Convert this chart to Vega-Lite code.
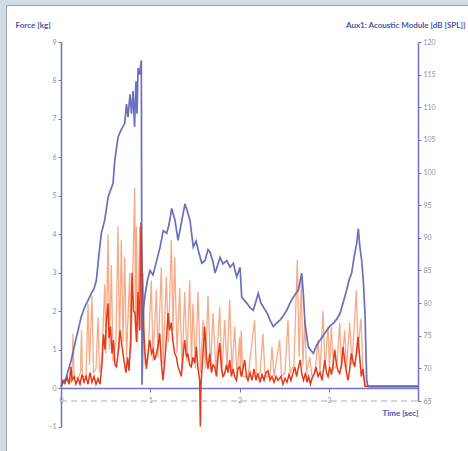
{
  "$schema": "https://vega.github.io/schema/vega-lite/v6.json",
  "autosize": "none",
  "width": 462,
  "height": 446,
  "padding": {"left": 6, "top": 5, "right": 0, "bottom": 0},
  "background": "#d3dce5",
  "view": {"fill": "white", "stroke": "#9aa3ad", "strokeWidth": 1},
  "config": {
    "font": "Lato",
    "axis": {"grid": false, "labelColor": "#8f8f8f", "labelFontSize": 7, "domainColor": "#6e73c4", "domainWidth": 1.5, "tickColor": "#6e73c4", "titleColor": "#4a53a8", "titleFontSize": 8, "titleFontWeight": "bold", "labelOverlap": false, "labelFlush": false, "labelBound": false}
  },
  "datasets": {
    "orange": [
      {"t":0,"f":0.1},{"t":0.045,"f":0.2},{"t":0.101,"f":0.15},{"t":0.123,"f":0.3},{"t":0.134,"f":1.42},{"t":0.146,"f":0.3},{"t":0.19,"f":0.25},{"t":0.218,"f":0.4},{"t":0.23,"f":1.5},{"t":0.241,"f":0.3},{"t":0.28,"f":0.3},{"t":0.303,"f":2.2},{"t":0.319,"f":0.6},{"t":0.347,"f":2.4},{"t":0.364,"f":0.4},{"t":0.392,"f":0.5},{"t":0.415,"f":1.85},{"t":0.431,"f":0.4},{"t":0.459,"f":0.8},{"t":0.49,"f":2.7},{"t":0.504,"f":0.9},{"t":0.527,"f":4.0},{"t":0.543,"f":1.0},{"t":0.564,"f":3.2},{"t":0.583,"f":0.7},{"t":0.616,"f":1.2},{"t":0.639,"f":4.2},{"t":0.655,"f":1.0},{"t":0.676,"f":3.85},{"t":0.695,"f":1.2},{"t":0.714,"f":3.4},{"t":0.734,"f":0.8},{"t":0.77,"f":3.0},{"t":0.784,"f":0.9},{"t":0.826,"f":5.2},{"t":0.835,"f":1.5},{"t":0.844,"f":4.2},{"t":0.857,"f":1.2},{"t":0.882,"f":4.2},{"t":0.896,"f":1.5},{"t":0.919,"f":3.0},{"t":0.941,"f":0.6},{"t":0.975,"f":0.8},{"t":1.012,"f":2.8},{"t":1.031,"f":0.7},{"t":1.068,"f":2.55},{"t":1.087,"f":0.8},{"t":1.124,"f":3.15},{"t":1.143,"f":0.6},{"t":1.18,"f":2.9},{"t":1.204,"f":1.2},{"t":1.236,"f":3.85},{"t":1.255,"f":1.5},{"t":1.274,"f":3.4},{"t":1.3,"f":0.9},{"t":1.33,"f":2.6},{"t":1.356,"f":0.5},{"t":1.386,"f":2.5},{"t":1.412,"f":0.7},{"t":1.442,"f":2.8},{"t":1.462,"f":0.6},{"t":1.479,"f":2.2},{"t":1.507,"f":0.5},{"t":1.535,"f":2.5},{"t":1.563,"f":0.4},{"t":1.591,"f":1.77},{"t":1.619,"f":0.5},{"t":1.647,"f":2.4},{"t":1.675,"f":0.5},{"t":1.703,"f":1.95},{"t":1.737,"f":0.4},{"t":1.778,"f":2.1},{"t":1.804,"f":0.4},{"t":1.834,"f":1.77},{"t":1.86,"f":0.5},{"t":1.89,"f":2.3},{"t":1.916,"f":0.4},{"t":1.946,"f":1.6},{"t":1.972,"f":0.3},{"t":2.002,"f":1.33},{"t":2.011,"f":0.3},{"t":2.02,"f":1.5},{"t":2.039,"f":0.3},{"t":2.095,"f":0.3},{"t":2.17,"f":1.77},{"t":2.19,"f":0.3},{"t":2.23,"f":0.4},{"t":2.263,"f":1.42},{"t":2.286,"f":0.3},{"t":2.342,"f":0.3},{"t":2.364,"f":1.07},{"t":2.387,"f":0.3},{"t":2.45,"f":1.25},{"t":2.471,"f":0.3},{"t":2.51,"f":0.4},{"t":2.543,"f":1.77},{"t":2.566,"f":0.4},{"t":2.61,"f":0.6},{"t":2.648,"f":3.33},{"t":2.667,"f":0.8},{"t":2.692,"f":2.8},{"t":2.711,"f":0.6},{"t":2.731,"f":1.77},{"t":2.751,"f":0.4},{"t":2.787,"f":0.8},{"t":2.812,"f":0.3},{"t":2.846,"f":0.4},{"t":2.88,"f":1.25},{"t":2.902,"f":0.4},{"t":2.936,"f":2.0},{"t":2.958,"f":0.5},{"t":2.992,"f":1.6},{"t":3.008,"f":0.5},{"t":3.029,"f":1.6},{"t":3.053,"f":0.5},{"t":3.092,"f":0.6},{"t":3.123,"f":1.7},{"t":3.143,"f":0.5},{"t":3.179,"f":1.5},{"t":3.199,"f":0.5},{"t":3.235,"f":1.7},{"t":3.261,"f":0.6},{"t":3.309,"f":2.55},{"t":3.328,"f":0.9},{"t":3.347,"f":1.5},{"t":3.361,"f":1.8},{"t":3.384,"f":0.4},{"t":3.406,"f":0.05},{"t":4.0,"f":0.05}
    ],
    "red": [
      {"t":0,"f":0.05},{"t":0.022,"f":0.2},{"t":0.045,"f":0.12},{"t":0.067,"f":0.3},{"t":0.09,"f":0.1},{"t":0.112,"f":0.55},{"t":0.123,"f":0.2},{"t":0.146,"f":0.3},{"t":0.168,"f":0.1},{"t":0.19,"f":0.25},{"t":0.213,"f":0.1},{"t":0.235,"f":0.35},{"t":0.258,"f":0.15},{"t":0.28,"f":0.3},{"t":0.303,"f":0.1},{"t":0.325,"f":0.4},{"t":0.347,"f":0.15},{"t":0.37,"f":0.3},{"t":0.392,"f":0.1},{"t":0.415,"f":0.25},{"t":0.437,"f":0.1},{"t":0.459,"f":0.6},{"t":0.476,"f":1.4},{"t":0.493,"f":1.0},{"t":0.51,"f":1.8},{"t":0.527,"f":2.2},{"t":0.538,"f":1.3},{"t":0.555,"f":1.6},{"t":0.571,"f":0.9},{"t":0.588,"f":1.25},{"t":0.605,"f":0.6},{"t":0.622,"f":0.55},{"t":0.639,"f":0.9},{"t":0.661,"f":1.5},{"t":0.683,"f":1.1},{"t":0.706,"f":0.7},{"t":0.728,"f":0.4},{"t":0.745,"f":0.8},{"t":0.762,"f":0.45},{"t":0.779,"f":1.2},{"t":0.796,"f":3.0},{"t":0.813,"f":2.0},{"t":0.829,"f":1.95},{"t":0.846,"f":1.2},{"t":0.863,"f":2.5},{"t":0.88,"f":1.5},{"t":0.896,"f":4.3},{"t":0.908,"f":3.2},{"t":0.924,"f":1.6},{"t":0.941,"f":0.9},{"t":0.958,"f":0.5},{"t":0.975,"f":0.9},{"t":0.994,"f":1.25},{"t":1.014,"f":0.9},{"t":1.031,"f":1.0},{"t":1.05,"f":0.73},{"t":1.07,"f":0.9},{"t":1.087,"f":1.1},{"t":1.106,"f":1.42},{"t":1.126,"f":0.6},{"t":1.143,"f":0.2},{"t":1.166,"f":0.8},{"t":1.182,"f":1.3},{"t":1.199,"f":1.95},{"t":1.216,"f":1.5},{"t":1.236,"f":1.7},{"t":1.255,"f":1.2},{"t":1.274,"f":0.9},{"t":1.294,"f":0.8},{"t":1.311,"f":0.55},{"t":1.328,"f":0.45},{"t":1.348,"f":0.3},{"t":1.367,"f":0.8},{"t":1.386,"f":1.25},{"t":1.406,"f":0.8},{"t":1.42,"f":0.9},{"t":1.442,"f":0.6},{"t":1.459,"f":0.55},{"t":1.479,"f":0.8},{"t":1.499,"f":0.65},{"t":1.516,"f":1.07},{"t":1.535,"f":0.5},{"t":1.554,"f":0.2},{"t":1.561,"f":-1.0},{"t":1.569,"f":0.1},{"t":1.585,"f":0.7},{"t":1.61,"f":1.6},{"t":1.63,"f":0.8},{"t":1.647,"f":0.5},{"t":1.666,"f":0.9},{"t":1.686,"f":0.4},{"t":1.703,"f":0.6},{"t":1.722,"f":0.55},{"t":1.742,"f":0.3},{"t":1.759,"f":0.8},{"t":1.778,"f":1.17},{"t":1.798,"f":0.5},{"t":1.815,"f":0.3},{"t":1.834,"f":0.38},{"t":1.854,"f":0.6},{"t":1.871,"f":0.4},{"t":1.89,"f":0.73},{"t":1.91,"f":0.3},{"t":1.927,"f":0.5},{"t":1.946,"f":0.3},{"t":1.966,"f":0.2},{"t":1.983,"f":0.5},{"t":2.002,"f":0.55},{"t":2.022,"f":0.3},{"t":2.039,"f":0.5},{"t":2.058,"f":0.73},{"t":2.078,"f":0.3},{"t":2.095,"f":0.2},{"t":2.118,"f":0.4},{"t":2.14,"f":0.2},{"t":2.162,"f":0.5},{"t":2.185,"f":0.2},{"t":2.207,"f":0.38},{"t":2.23,"f":0.15},{"t":2.252,"f":0.35},{"t":2.275,"f":0.2},{"t":2.297,"f":0.4},{"t":2.319,"f":0.45},{"t":2.342,"f":0.2},{"t":2.364,"f":0.3},{"t":2.387,"f":0.15},{"t":2.409,"f":0.3},{"t":2.431,"f":0.2},{"t":2.465,"f":0.3},{"t":2.487,"f":0.1},{"t":2.51,"f":0.25},{"t":2.532,"f":0.15},{"t":2.555,"f":0.35},{"t":2.577,"f":0.2},{"t":2.6,"f":0.4},{"t":2.619,"f":0.55},{"t":2.64,"f":0.3},{"t":2.656,"f":0.5},{"t":2.68,"f":0.73},{"t":2.7,"f":0.35},{"t":2.717,"f":0.2},{"t":2.74,"f":0.4},{"t":2.756,"f":0.15},{"t":2.773,"f":0.3},{"t":2.795,"f":0.1},{"t":2.812,"f":0.25},{"t":2.835,"f":0.35},{"t":2.857,"f":0.55},{"t":2.88,"f":0.3},{"t":2.902,"f":0.4},{"t":2.925,"f":0.2},{"t":2.955,"f":0.73},{"t":2.975,"f":0.4},{"t":2.992,"f":0.3},{"t":3.011,"f":0.55},{"t":3.03,"f":0.35},{"t":3.048,"f":0.6},{"t":3.067,"f":1.0},{"t":3.087,"f":0.6},{"t":3.104,"f":0.45},{"t":3.123,"f":0.38},{"t":3.143,"f":0.6},{"t":3.16,"f":1.07},{"t":3.179,"f":0.7},{"t":3.199,"f":0.4},{"t":3.216,"f":0.2},{"t":3.235,"f":0.5},{"t":3.253,"f":0.9},{"t":3.272,"f":0.7},{"t":3.291,"f":0.55},{"t":3.309,"f":0.9},{"t":3.328,"f":1.33},{"t":3.347,"f":0.8},{"t":3.365,"f":0.3},{"t":3.384,"f":0.5},{"t":3.406,"f":0.05},{"t":4.0,"f":0.05}
    ],
    "blue": [
      {"t":0,"db":67.2},{"t":0.056,"db":68.5},{"t":0.115,"db":71.3},{"t":0.168,"db":74.5},{"t":0.227,"db":77.9},{"t":0.269,"db":79.5},{"t":0.303,"db":80.4},{"t":0.34,"db":81.5},{"t":0.37,"db":82.2},{"t":0.396,"db":83.5},{"t":0.426,"db":87.5},{"t":0.452,"db":90.7},{"t":0.49,"db":92.7},{"t":0.527,"db":96.2},{"t":0.56,"db":97.5},{"t":0.583,"db":98.3},{"t":0.602,"db":101.8},{"t":0.639,"db":105.4},{"t":0.672,"db":106.5},{"t":0.714,"db":107.5},{"t":0.734,"db":110.5},{"t":0.751,"db":108.5},{"t":0.773,"db":112},{"t":0.79,"db":109},{"t":0.807,"db":112.5},{"t":0.824,"db":107},{"t":0.84,"db":114},{"t":0.852,"db":109},{"t":0.863,"db":116},{"t":0.88,"db":115},{"t":0.9,"db":117.2},{"t":0.908,"db":67.5},{"t":0.924,"db":79},{"t":0.941,"db":81.2},{"t":0.969,"db":83.5},{"t":0.997,"db":85},{"t":1.031,"db":84.3},{"t":1.072,"db":86.5},{"t":1.109,"db":88.5},{"t":1.146,"db":91.1},{"t":1.184,"db":90.7},{"t":1.21,"db":92},{"t":1.24,"db":94.5},{"t":1.277,"db":92.7},{"t":1.311,"db":89.6},{"t":1.345,"db":92},{"t":1.389,"db":95.2},{"t":1.417,"db":94},{"t":1.445,"db":92.7},{"t":1.482,"db":88.6},{"t":1.513,"db":89.5},{"t":1.538,"db":88.1},{"t":1.577,"db":86.1},{"t":1.613,"db":86.5},{"t":1.647,"db":88.2},{"t":1.67,"db":87.8},{"t":1.703,"db":86.3},{"t":1.726,"db":84.6},{"t":1.759,"db":86},{"t":1.782,"db":87},{"t":1.815,"db":86},{"t":1.857,"db":86.5},{"t":1.894,"db":85.5},{"t":1.931,"db":86.1},{"t":1.969,"db":84},{"t":2.006,"db":85.5},{"t":2.025,"db":80.9},{"t":2.05,"db":80.5},{"t":2.081,"db":80},{"t":2.118,"db":79.3},{"t":2.155,"db":78.9},{"t":2.21,"db":81.5},{"t":2.241,"db":80},{"t":2.267,"db":79.4},{"t":2.308,"db":78.5},{"t":2.342,"db":77.4},{"t":2.379,"db":76.4},{"t":2.42,"db":77},{"t":2.454,"db":77.4},{"t":2.487,"db":78},{"t":2.529,"db":78.9},{"t":2.566,"db":80},{"t":2.603,"db":80.9},{"t":2.633,"db":81.5},{"t":2.659,"db":82},{"t":2.697,"db":84.6},{"t":2.715,"db":81.5},{"t":2.734,"db":76.9},{"t":2.771,"db":73.3},{"t":2.796,"db":72.8},{"t":2.827,"db":72.3},{"t":2.863,"db":73.5},{"t":2.902,"db":74.3},{"t":2.936,"db":75},{"t":2.977,"db":75.8},{"t":3.014,"db":76.5},{"t":3.051,"db":76.9},{"t":3.087,"db":77.5},{"t":3.126,"db":78.4},{"t":3.16,"db":80},{"t":3.201,"db":82},{"t":3.227,"db":83.5},{"t":3.257,"db":84.6},{"t":3.283,"db":87},{"t":3.313,"db":89.1},{"t":3.331,"db":91.4},{"t":3.35,"db":88.5},{"t":3.369,"db":86.5},{"t":3.387,"db":83.5},{"t":3.406,"db":78.4},{"t":3.425,"db":68.2},{"t":3.44,"db":67.2},{"t":4.0,"db":67.2}
    ]
  },
  "layer": [
    {
      "layer": [
        {
          "data": {"name": "orange"},
          "mark": {"type": "line", "color": "#f4a27c", "strokeWidth": 1.3, "opacity": 0.9},
          "encoding": {
            "x": {"field": "t", "type": "quantitative", "scale": {"domain": [0, 4], "range": [55, 412], "nice": false, "zero": false},
              "axis": {"orient": "bottom", "offset": -63, "values": [0, 1, 2, 3], "format": "d", "tickSize": 4, "labelPadding": 4, "title": "Time [sec]", "titleAnchor": "end", "titleAlign": "right", "titleX": 412, "titleY": 25, "titleBaseline": "middle"}},
            "y": {"field": "f", "type": "quantitative", "scale": {"domain": [-1, 9], "range": [421.5, 37], "nice": false, "zero": false},
              "axis": {"orient": "left", "offset": -55, "values": [-1, 0, 1, 2, 3, 4, 5, 6, 7, 8, 9], "tickSize": 3, "labelPadding": 2, "title": "Force [kg]", "titleAngle": 0, "titleAlign": "left", "titleBaseline": "middle", "titleX": -46, "titleY": 20}}
          }
        },
        {
          "data": {"name": "red"},
          "mark": {"type": "line", "color": "#e43a1a", "strokeWidth": 1.5},
          "encoding": {
            "x": {"field": "t", "type": "quantitative"},
            "y": {"field": "f", "type": "quantitative"}
          }
        }
      ]
    },
    {
      "layer": [
        {
          "data": {"values": [{}]},
          "mark": {"type": "rule", "color": "#c9c9c9", "strokeWidth": 1.5, "strokeDash": [6, 4]},
          "encoding": {
            "x": {"datum": 0, "type": "quantitative"},
            "x2": {"datum": 4},
            "y": {"datum": 65, "type": "quantitative"}
          }
        },
        {
          "data": {"name": "blue"},
          "mark": {"type": "line", "color": "#5a61b4", "strokeWidth": 1.7, "opacity": 0.9},
          "encoding": {
            "x": {"field": "t", "type": "quantitative"},
            "y": {"field": "db", "type": "quantitative", "scale": {"domain": [65, 120], "range": [396, 37], "nice": false, "zero": false},
              "axis": {"orient": "right", "offset": -50, "values": [65, 70, 75, 80, 85, 90, 95, 100, 105, 110, 115, 120], "tickSize": 3, "labelPadding": 2, "title": "Aux1: Acoustic Module [dB [SPL]]", "titleAngle": 0, "titleAlign": "right", "titleBaseline": "middle", "titleX": 47, "titleY": 20}}
          }
        }
      ]
    }
  ],
  "resolve": {"scale": {"y": "independent"}}
}
